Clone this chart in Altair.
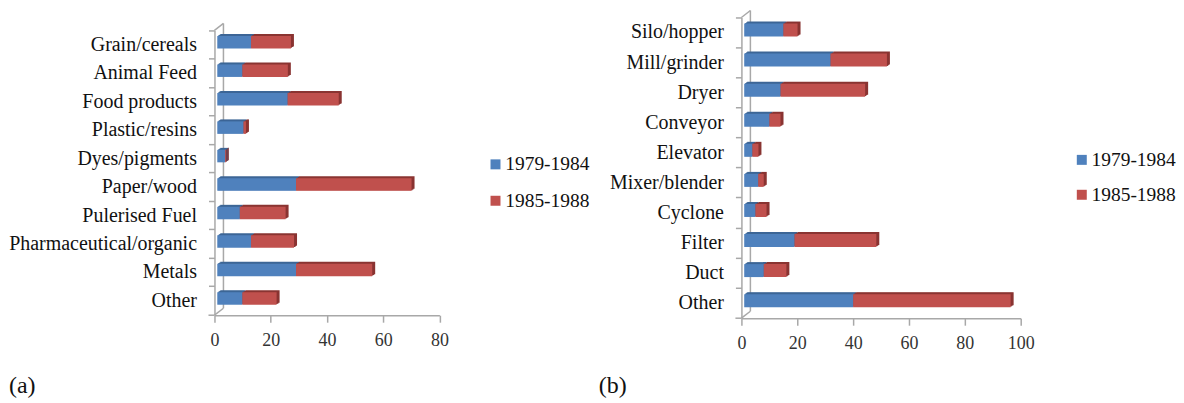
import altair as alt
import pandas as pd

SERIES = ["1979-1984", "1985-1988"]

cats_a = ["Grain/cereals", "Animal Feed", "Food products", "Plastic/resins", "Dyes/pigments",
          "Paper/wood", "Pulerised Fuel", "Pharmaceutical/organic", "Metals", "Other"]
early_a = [13, 9.9, 26, 10.3, 3.8, 29, 9, 13, 29, 9.9]
late_a = [14.2, 16.2, 18.2, 0.9, 0.3, 41.1, 16.3, 15.3, 27.1, 12.2]

cats_b = ["Silo/hopper", "Mill/grinder", "Dryer", "Conveyor", "Elevator",
          "Mixer/blender", "Cyclone", "Filter", "Duct", "Other"]
early_b = [15, 31.9, 14, 10, 3.9, 6, 5, 19, 8, 40]
late_b = [5.1, 20.2, 30.3, 4, 2.2, 2, 4, 29.3, 8.1, 56.4]

BLUE, RED = "#4f81bd", "#c0504d"
BLUE_D, RED_D = "#3d6696", "#8a3432"
GREY = "#a8a8a8"
SERIF = "Liberation Serif"


def frames(cats, early, late, base):
    rows = []
    for c, e, l in zip(cats, early, late):
        rows.append(dict(cat=c, series=SERIES[0], start=base, end=e))
        rows.append(dict(cat=c, series=SERIES[1], start=e, end=e + l))
    return pd.DataFrame(rows)


def panel(cats, early, late, xmax, w, top, h, bar, wall, legend_xy, row_pad, tag, tag_xy, base=1.0):
    df = frames(cats, early, late, base)
    xs = alt.Scale(domain=[0, xmax], nice=False)
    ys = alt.Scale(domain=cats, paddingInner=0, paddingOuter=0, range=[top, h])
    xax = alt.Axis(values=list(range(0, xmax + 1, 20)), grid=False, domainColor=GREY, domainWidth=1.5,
                   tickColor=GREY, tickWidth=1.5, tickSize=7, labelFont="Liberation Sans Narrow", labelFontSize=18,
                   labelColor="#333333", labelPadding=9, title=None, labelFlush=False)
    yax = alt.Axis(bandPosition=0, grid=False, domainColor=GREY, domainWidth=1.5, tickColor=GREY,
                   tickWidth=1.5, tickSize=6, labelFont=SERIF, labelFontSize=20, labelColor="#111111",
                   labelPadding=12, title=None, labelLimit=300)
    dx, dy = wall
    walls = [
        (dx, dx, top - dy, h - dy),
        (0, dx, top, top - dy),
        (0, dx, h, h - dy),
        (-6, 0, h, h),
    ]
    layers = []
    for x1, x2, y1, y2 in walls:
        layers.append(alt.Chart(df.head(1)).mark_rule(color=GREY, strokeWidth=1.5).encode(
            x=alt.value(x1), x2=alt.value(x2), y=alt.value(y1), y2=alt.value(y2)))
    for frac in (1.0, 0.66, 0.33):
        for s, col in ((SERIES[1], RED_D), (SERIES[0], BLUE_D)):
            layers.append(
                alt.Chart(df[df.series == s])
                .mark_bar(size=bar, color=col, xOffset=3 * frac, x2Offset=3 * frac, yOffset=-2.5 - 2 * frac, cornerRadius=0)
                .encode(x=alt.X("start:Q", scale=xs, axis=xax), x2="end:Q", y=alt.Y("cat:N", scale=ys, sort=cats, axis=yax))
            )
    layers.append(
        alt.Chart(df).mark_bar(size=bar, yOffset=-2.5).encode(
            x=alt.X("start:Q", scale=xs, axis=xax), x2="end:Q",
            y=alt.Y("cat:N", scale=ys, sort=cats, axis=yax),
            color=alt.Color("series:N", scale=alt.Scale(domain=SERIES, range=[BLUE, RED]),
                            legend=alt.Legend(orient="none", legendX=legend_xy[0], legendY=legend_xy[1], title=None,
                                              symbolType="square", symbolSize=100, symbolStrokeWidth=0,
                                              labelFont=SERIF, labelFontSize=19.5, labelColor="#111111", labelOffset=0,
                                              rowPadding=row_pad, labelLimit=200, symbolOffset=0)),
        )
    )
    layers.append(alt.Chart(df.head(1)).mark_text(text=tag, font=SERIF, fontSize=24, align="left", baseline="middle", color="#111111").encode(
        x=alt.value(tag_xy[0]), y=alt.value(tag_xy[1])))
    return alt.layer(*layers).properties(width=w, height=h)


a = panel(cats_a, early_a, late_a, 80, 225.5, 13, 298.5, 12.5, (9, 7), (272, 137.5), 15.5, "(a)", (-206, 369))
b = panel(cats_b, early_b, late_b, 100, 280, 0, 301.5, 13, (9, 7), (331.5, 133), 14, "(b)", (-143, 369))

chart = (
    alt.hconcat(a, b, spacing=302.3, bounds="flush")
    .resolve_scale(color="independent")
    .resolve_legend(color="independent")
    .properties(padding={"left": 0, "top": 1, "right": 0, "bottom": 0})
    .configure_view(stroke=None)
)
chart.save("out.html", embed_options={"renderer": "svg", "actions": False})
